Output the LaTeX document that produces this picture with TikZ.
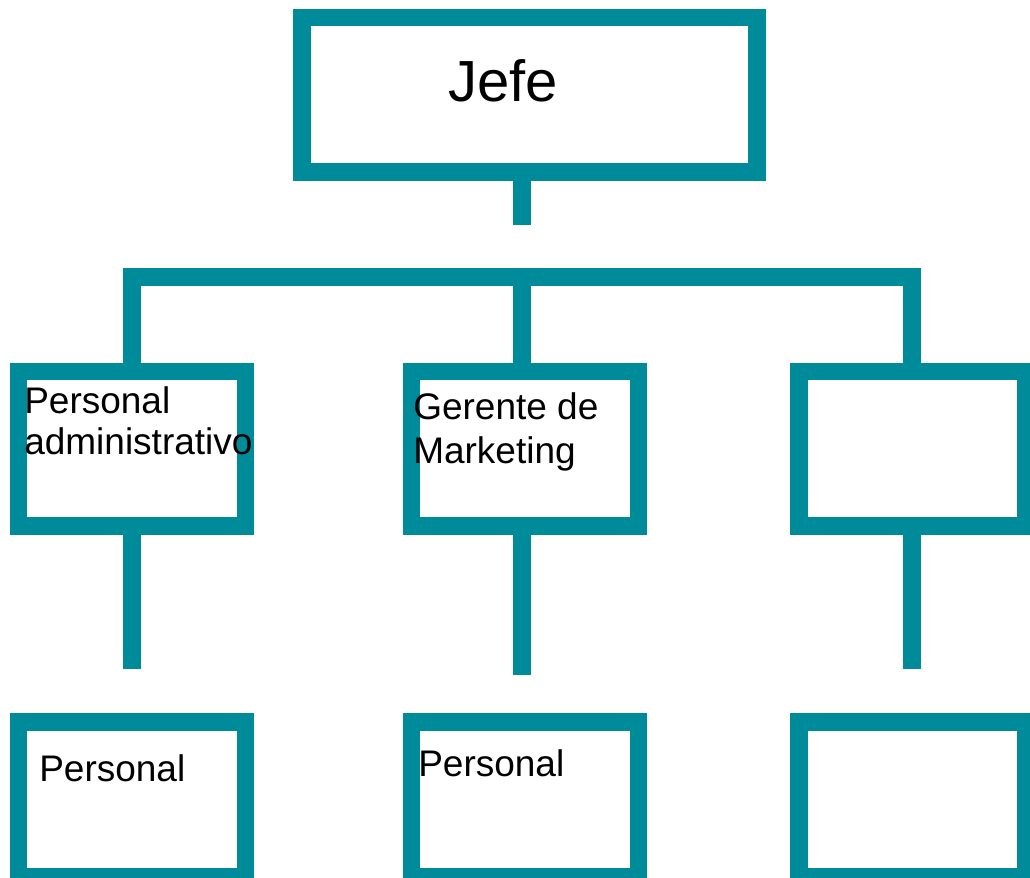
\documentclass[tikz,border=0pt]{standalone}
\usepackage{fontspec}
\setmainfont{Liberation Sans}
\definecolor{orgteal}{RGB}{0,139,154}

\begin{document}
\begin{tikzpicture}[x=0.75pt,y=-0.75pt,
caja/.style={draw=orgteal,line width=13.125pt,inner sep=0pt,outer sep=0pt,minimum width=170.25pt,minimum height=115.875pt},
linea/.style={draw=orgteal,line width=13.125pt},
txt/.style={anchor=base west,inner sep=0pt,align=left,font=\fontsize{27.75pt}{30.75pt}\selectfont}]
\useasboundingbox (0,0) rectangle (1030,877);

\node[caja,minimum width=341.25pt] (jefe) at (529.5,95) {};
\node[caja] (adm) at (131.75,448.6) {};
\node[caja] (mkt) at (525,448.6) {};
\node[caja] (der) at (912.25,448.6) {};
\node[caja] (padm) at (131.75,799.4) {};
\node[caja] (pmkt) at (525,799.4) {};
\node[caja] (pder) at (912.25,799.4) {};

\coordinate (tallo) at (522,225.3);
\coordinate (xl) at (132,277);
\coordinate (xm) at (522,277);
\coordinate (xr) at (912,277);
\coordinate (bl) at (132,669.3);
\coordinate (bm) at (522,675);
\coordinate (br) at (912,669.3);

\draw[linea] (jefe.south -| tallo) -- (tallo);
\draw[linea] (adm.north -| xl) -- (xl) -- (xr) -- (der.north -| xr);
\draw[linea] (xm) -- (mkt.north -| xm);
\draw[linea] (adm.south -| bl) -- (bl);
\draw[linea] (mkt.south -| bm) -- (bm);
\draw[linea] (der.south -| br) -- (br);

\node[txt,font=\fontsize{43.5pt}{52pt}\selectfont] (tjefe) at (448,101.7) {Jefe};
\node[txt] (tadm) at (24,454.3) {Personal\\administrativo};
\node[txt,font=\fontsize{27.75pt}{32.5pt}\selectfont] (tmkt) at (413,463.3) {Gerente de\\Marketing};
\node[txt] (tpadm) at (39,781.7) {Personal};
\node[txt] (tpmkt) at (418,776) {Personal};
\end{tikzpicture}
\end{document}
